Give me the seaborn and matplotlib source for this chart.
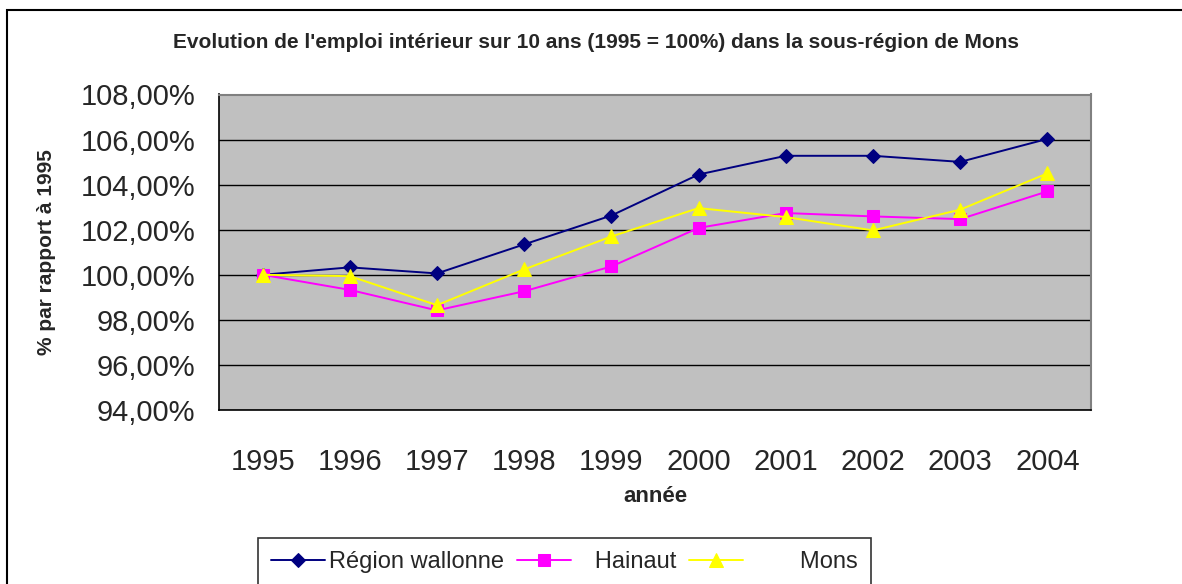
import numpy as np
import pandas as pd
import matplotlib
matplotlib.use("Agg")
import matplotlib.pyplot as plt
import matplotlib.ticker as mticker
from matplotlib.patches import Rectangle
import seaborn as sns

YEARS = ["1995", "1996", "1997", "1998", "1999", "2000", "2001", "2002", "2003", "2004"]
WALLONIE = [100.00, 100.33, 100.06, 101.35, 102.63, 104.45, 105.28, 105.28, 105.01, 106.03]
HAINAUT = [100.00, 99.33, 98.42, 99.27, 100.37, 102.08, 102.74, 102.59, 102.47, 103.70]
MONS = [100.00, 99.94, 98.65, 100.24, 101.70, 102.96, 102.56, 101.97, 102.89, 104.50]

SERIES = ["Région wallonne", "Hainaut", "Mons"]
LEGEND_LABELS = ["Région wallonne", "   Hainaut", "        Mons"]
Y_TICKS = [94, 96, 98, 100, 102, 104, 106, 108]

TITLE = "Evolution de l'emploi intérieur sur 10 ans (1995 = 100%) dans la sous-région de Mons"

# ######################### Style #########################

sns.set_style("white")
plt.rcParams["font.family"] = ["Liberation Sans", "DejaVu Sans"]

df = pd.DataFrame({
    "annee": YEARS * 3,
    "valeur": WALLONIE + HAINAUT + MONS,
    "zone": [s for s in SERIES for _ in YEARS],
})

colors = {"Région wallonne": "#000080", "Hainaut": "#FF00FF", "Mons": "#FFFF00"}
markers = {"Région wallonne": "D", "Hainaut": "s", "Mons": "^"}
msizes = {"Région wallonne": 7.5, "Hainaut": 8, "Mons": 10}

fig = plt.figure(figsize=(11.82, 5.84), dpi=100)
ax = fig.add_axes([219 / 1182, 174 / 584, 872 / 1182, 315.5 / 584])
ax.set_facecolor("#C0C0C0")

for name in SERIES:
    sub = df[df["zone"] == name]
    sns.lineplot(
        data=sub, x="annee", y="valeur", ax=ax,
        color=colors[name], marker=markers[name], markersize=msizes[name],
        markeredgecolor=colors[name], linewidth=1.4, label=name, legend=False,
        zorder=3,
    )

# ######################### Axes #########################

ax.set_xlim(-0.5, len(YEARS) - 0.5)
ax.set_ylim(Y_TICKS[0], Y_TICKS[-1])
ax.set_yticks(Y_TICKS)
ax.yaxis.set_major_formatter(
    mticker.FuncFormatter(lambda v, _: f"{v:.2f}".replace(".", ",") + "%")
)
ax.set_xticks(range(len(YEARS)))
ax.set_xticklabels(YEARS)
ax.set_xticks(np.arange(-0.5, len(YEARS)), minor=True)
ax.tick_params(axis="x", which="major", length=0, pad=27, labelsize=21)
ax.tick_params(axis="x", which="minor", length=9, width=1, color="black", direction="out")
ax.tick_params(axis="y", which="major", length=9, width=1, color="black",
               direction="out", pad=8, labelsize=21)
ax.yaxis.grid(True, color="black", linewidth=1)
ax.xaxis.grid(False)
ax.set_axisbelow(True)

for side in ["left", "bottom"]:
    ax.spines[side].set_color("black")
    ax.spines[side].set_linewidth(1.2)
for side in ["top", "right"]:
    ax.spines[side].set_color("#808080")
    ax.spines[side].set_linewidth(1.5)
    ax.spines[side].set_visible(True)

ax.set_xlabel("")
ax.set_ylabel("% par rapport à 1995", fontsize=15, fontweight="bold", labelpad=18)
fig.text(655 / 1182, 1 - 497 / 584, "année", ha="center", va="center",
         fontsize=16, fontweight="bold")
fig.text(596 / 1182, 1 - 42 / 584, TITLE, ha="center", va="center",
         fontsize=15, fontweight="bold")

# ######################### Legend #########################

handles = ax.get_lines()[: len(SERIES)]
leg = fig.legend(
    handles, LEGEND_LABELS, ncol=3, loc="upper left",
    bbox_to_anchor=(258 / 1182, 1 - 538 / 584), fontsize=17,
    frameon=True, fancybox=False, edgecolor="black", handlelength=2.3,
    handletextpad=0.15, columnspacing=0.55, borderpad=0.55, borderaxespad=0,
)
leg.get_frame().set_linewidth(1.2)

fig.patches.append(Rectangle((7 / 1182, -0.1), 1.1, 1.1 - 10.5 / 584, fill=False,
                             edgecolor="black", linewidth=1.5,
                             transform=fig.transFigure, figure=fig))

fig.savefig("out.png", dpi=100)
